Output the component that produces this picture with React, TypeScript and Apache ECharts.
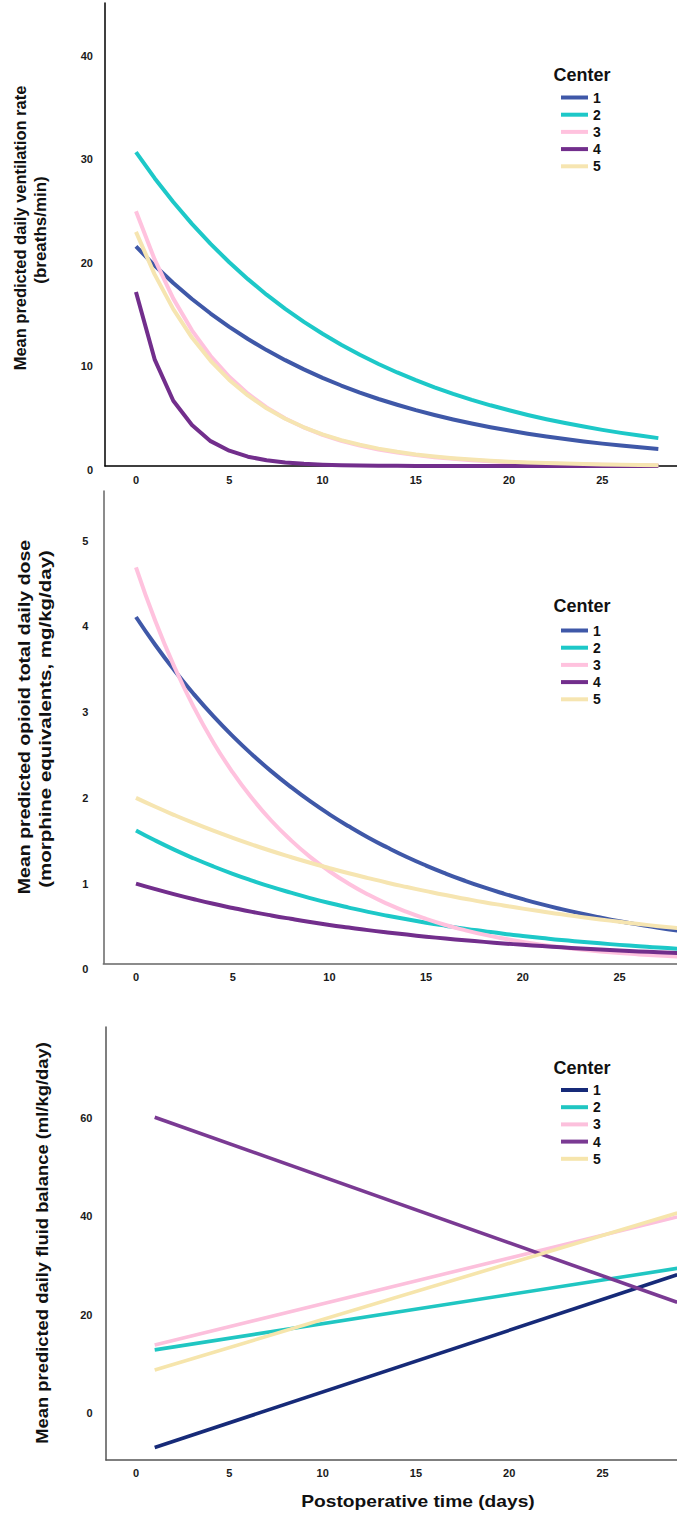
import React, { useEffect, useRef } from "react";
import * as echarts from "echarts";

const FONT = '"Liberation Sans", Arial, Helvetica, sans-serif';

// ---------- data ----------
const centers = ["1", "2", "3", "4", "5"];
const days = [0, 1, 2, 3, 4, 5, 6, 7, 8, 9, 10, 11, 12, 13, 14, 15, 16, 17, 18, 19, 20, 21, 22, 23, 24, 25, 26, 27, 28];
const xTicks = [0, 5, 10, 15, 20, 25];

// Panel 1: ventilation rate (breaths/min)
const vent1 = [21.2, 19.35, 17.66, 16.12, 14.72, 13.43, 12.26, 11.19, 10.22, 9.33, 8.51, 7.77, 7.09, 6.47, 5.91, 5.39, 4.92, 4.49, 4.1, 3.74, 3.42, 3.12, 2.85, 2.6, 2.37, 2.16, 1.98, 1.8, 1.65];
const vent2 = [30.3, 27.79, 25.49, 23.38, 21.44, 19.67, 18.04, 16.54, 15.17, 13.92, 12.77, 11.71, 10.74, 9.85, 9.03, 8.29, 7.6, 6.97, 6.39, 5.86, 5.38, 4.93, 4.52, 4.15, 3.81, 3.49, 3.2, 2.94, 2.69];
const vent3 = [24.6, 19.94, 16.16, 13.1, 10.62, 8.61, 6.98, 5.66, 4.58, 3.72, 3.01, 2.44, 1.98, 1.6, 1.3, 1.05, 0.85, 0.69, 0.56, 0.45, 0.37, 0.3, 0.24, 0.2, 0.16, 0.13, 0.1, 0.09, 0.07];
const vent4 = [16.8, 10.3, 6.3, 3.96, 2.4, 1.48, 0.9, 0.55, 0.34, 0.21, 0.13, 0.08, 0.05, 0.03, 0.02, 0.01, 0.01, 0.01, 0, 0, 0, 0, 0, 0, 0, 0, 0, 0, 0];
const vent5 = [22.6, 18.5, 15.15, 12.4, 10.15, 8.31, 6.81, 5.57, 4.56, 3.74, 3.06, 2.5, 2.05, 1.68, 1.37, 1.12, 0.92, 0.75, 0.62, 0.51, 0.41, 0.34, 0.28, 0.23, 0.19, 0.15, 0.12, 0.1, 0.08];
const ventTicks = [0, 10, 20, 30, 40];

// Panel 2: opioid dose (mg/kg/day)
const opi1 = [4.04, 3.713, 3.413, 3.137, 2.883, 2.65, 2.436, 2.239, 2.058, 1.891, 1.738, 1.598, 1.468, 1.35, 1.24, 1.14, 1.048, 0.963, 0.885, 0.814, 0.748, 0.687, 0.632, 0.581, 0.534, 0.49, 0.451, 0.414, 0.381];
const opi2 = [1.55, 1.432, 1.323, 1.223, 1.13, 1.044, 0.965, 0.891, 0.824, 0.761, 0.703, 0.65, 0.6, 0.555, 0.513, 0.474, 0.438, 0.404, 0.374, 0.345, 0.319, 0.295, 0.272, 0.252, 0.233, 0.215, 0.199, 0.183, 0.17];
const opi3 = [4.62, 3.993, 3.451, 2.982, 2.577, 2.227, 1.925, 1.663, 1.438, 1.242, 1.074, 0.928, 0.802, 0.693, 0.599, 0.518, 0.447, 0.387, 0.334, 0.289, 0.25, 0.216, 0.186, 0.161, 0.139, 0.12, 0.104, 0.09, 0.078];
const opi4 = [0.93, 0.865, 0.804, 0.747, 0.694, 0.646, 0.6, 0.558, 0.519, 0.482, 0.448, 0.417, 0.387, 0.36, 0.335, 0.311, 0.289, 0.269, 0.25, 0.232, 0.216, 0.201, 0.187, 0.173, 0.161, 0.15, 0.139, 0.13, 0.12];
const opi5 = [1.93, 1.826, 1.728, 1.635, 1.547, 1.464, 1.385, 1.31, 1.24, 1.173, 1.11, 1.05, 0.994, 0.94, 0.89, 0.842, 0.796, 0.754, 0.713, 0.675, 0.638, 0.604, 0.571, 0.541, 0.512, 0.484, 0.458, 0.433, 0.41];
const opiTicks = [0, 1, 2, 3, 4, 5];

// Panel 3: fluid balance (ml/kg/day), linear trends
const fluidDays = [1, 29];
const fluid1 = [-7.9, 27.3];
const fluid2 = [12.0, 28.6];
const fluid3 = [13.0, 39.1];
const fluid4 = [59.4, 21.7];
const fluid5 = [7.9, 39.9];
const fluidTicks = [0, 20, 40, 60];

// ---------- styles ----------
const colorsTop = ["#3F58A8", "#1DC8C8", "#FFC2DE", "#722E8C", "#F6E5B1"];
const colorsBottom = ["#162A78", "#20C6C2", "#FCC0DC", "#7A3A93", "#F6E5AC"];

const pairs = (xs: number[], ys: number[]) => xs.map((x, i) => [x, ys[i]]);

export default function App() {
  const ref = useRef<HTMLDivElement>(null);

  useEffect(() => {
    if (!ref.current) return;
    const chart = echarts.init(ref.current, null, { renderer: "svg" });

    const tickLabel = (custom: number[], margin: number, extra: any = {}) => ({
      customValues: custom,
      margin,
      fontFamily: FONT,
      fontWeight: "bold",
      fontSize: 11,
      color: "#1a1a1a",
      ...extra,
    });

    const axisLine = (color: string) => ({
      show: true,
      onZero: false,
      lineStyle: { color, width: 1.5 },
    });

    const grids = [
      { left: 105, top: 3, width: 572, height: 463 },
      { left: 103.3, top: 491, width: 573.7, height: 472.3 },
      { left: 106, top: 1027, width: 571, height: 433 },
    ];

    const xAxes = [
      { min: -1.66, max: 29.0, line: "#000", margin: 8 },
      { min: -1.69, max: 27.97, line: "#666", margin: 8.5 },
      { min: -1.61, max: 28.99, line: "#555", margin: 7 },
    ].map((a, i) => ({
      type: "value",
      gridIndex: i,
      min: a.min,
      max: a.max,
      axisLine: axisLine(a.line),
      axisTick: { show: false },
      splitLine: { show: false },
      axisLabel: tickLabel(xTicks, a.margin),
    }));

    const yAxes = [
      { min: 0, max: 44.7, line: "#000", ticks: ventTicks, margin: 12, lh: 8 },
      { min: 0, max: 5.51, line: "#666", ticks: opiTicks, margin: 15, lh: 12 },
      { min: -10.45, max: 77.8, line: "#555", ticks: fluidTicks, margin: 13.5, lh: 8 },
    ].map((a, i) => ({
      type: "value",
      gridIndex: i,
      min: a.min,
      max: a.max,
      axisLine: axisLine(a.line),
      axisTick: { show: false },
      splitLine: { show: false },
      axisLabel: tickLabel(a.ticks, a.margin, { verticalAlign: "top", lineHeight: a.lh }),
    }));

    const panelData = [
      { xs: days, ys: [vent1, vent2, vent3, vent4, vent5], colors: colorsTop, width: 4, smooth: false },
      { xs: days, ys: [opi1, opi2, opi3, opi4, opi5], colors: colorsTop, width: 4, smooth: true },
      { xs: fluidDays, ys: [fluid1, fluid2, fluid3, fluid4, fluid5], colors: colorsBottom, width: 3.6, smooth: false },
    ];

    const series: any[] = [];
    panelData.forEach((p, gi) => {
      p.ys.forEach((ys, si) => {
        series.push({
          type: "line",
          name: centers[si],
          xAxisIndex: gi,
          yAxisIndex: gi,
          data: pairs(p.xs, ys),
          symbol: "none",
          showSymbol: false,
          smooth: p.smooth,
          clip: true,
          lineStyle: { width: p.width, color: p.colors[si], cap: "butt", join: "round" },
          itemStyle: { color: p.colors[si] },
          emphasis: { disabled: true },
        });
      });
    });

    const legendTops = [90.5, 623.5, 1083];
    const legends = legendTops.map((top, gi) => ({
      orient: "vertical",
      left: 561,
      top,
      padding: 0,
      itemWidth: 27,
      itemHeight: 4,
      itemGap: 3.2,
      icon: "rect",
      selectedMode: false,
      textStyle: {
        fontFamily: FONT,
        fontWeight: "bold",
        fontSize: 14,
        lineHeight: 14,
        color: "#111",
      },
      data: centers.map((c, j) => ({
        name: c,
        icon: "rect",
        itemStyle: { color: panelData[gi].colors[j] },
      })),
    }));

    const txt = (
      text: string,
      x: number,
      y: number,
      size: number,
      rotate: boolean,
      scale = 1
    ) => ({
      type: "text",
      x,
      y,
      rotation: rotate ? Math.PI / 2 : 0,
      scaleX: scale,
      style: {
        text,
        font: `bold ${size}px ${FONT}`,
        fill: "#111",
        align: "center",
        verticalAlign: "middle",
        textAlign: "center",
        textVerticalAlign: "middle",
      },
      silent: true,
    });

    const graphic = [
      txt("Mean predicted daily ventilation rate", 20, 228, 16, true, 1.03),
      txt("(breaths/min)", 40, 230, 16, true, 1.06),
      txt("Mean predicted opioid total daily dose", 25, 717, 16, true, 1.22),
      txt("(morphine equivalents, mg/kg/day)", 45, 719, 16, true, 1.28),
      txt("Mean predicted daily fluid balance (ml/kg/day)", 42, 1243, 16, true, 1.15),
      txt("Postoperative time (days)", 418, 1502, 16, false, 1.2),
      txt("Center", 582, 75, 18, false),
      txt("Center", 582, 606, 18, false),
      txt("Center", 582, 1068, 18, false),
    ];

    chart.setOption({
      animation: false,
      backgroundColor: "#ffffff",
      grid: grids,
      xAxis: xAxes,
      yAxis: yAxes,
      legend: legends,
      series,
      graphic,
    });

    return () => chart.dispose();
  }, []);

  return (
    <div
      ref={ref}
      style={{ position: "absolute", left: 0, top: 0, width: 677, height: 1518, background: "#fff" }}
    />
  );
}
